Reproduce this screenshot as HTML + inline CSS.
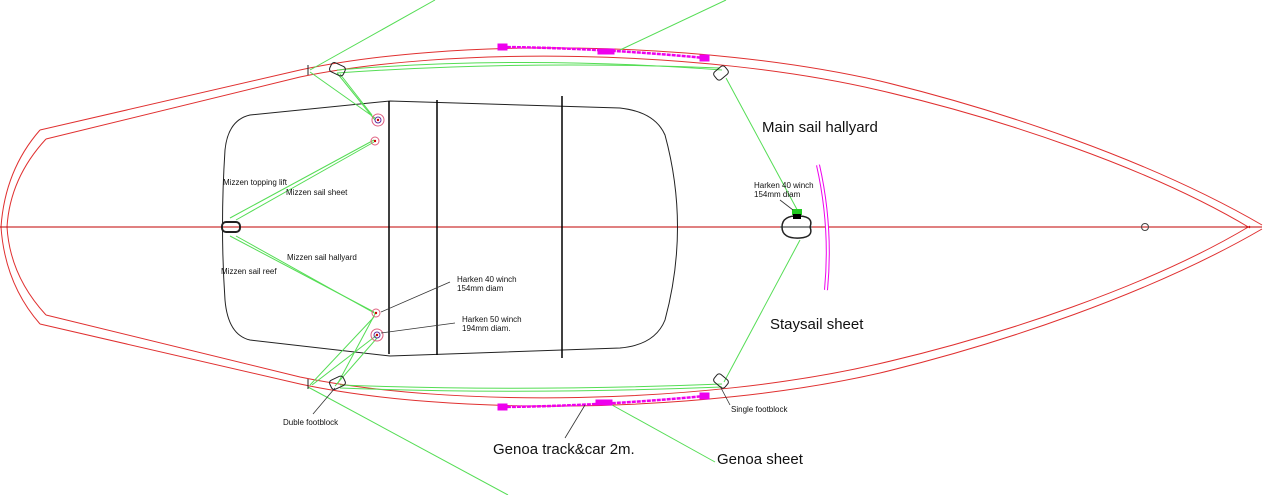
<!DOCTYPE html>
<html><head><meta charset="utf-8"><style>
html,body{margin:0;padding:0;background:#fff;width:1266px;height:495px;overflow:hidden}
svg{display:block}
text{font-family:"Liberation Sans",Arial,sans-serif;fill:#111}
</style></head><body>
<svg width="1266" height="495" viewBox="0 0 1266 495" xmlns="http://www.w3.org/2000/svg">
<defs>
<g id="hullhalf" fill="none" stroke="#e03030" stroke-width="1">
  <path d="M40,130 L300,70 C450,38 700,40 880,81 C1000,110 1150,160 1262,225"/>
  <path d="M46,139 L300,77 C450,46 700,49 878,90 C1000,118 1150,168 1250,228"/>
  <path d="M40,130 Q5,170 1,227"/>
  <path d="M46,139 Q10,178 7,227"/>
</g>
</defs>
<use href="#hullhalf"/>
<use href="#hullhalf" transform="translate(0,454) scale(1,-1)"/>
<line x1="0" y1="227" x2="1262" y2="227" stroke="#c00000" stroke-width="1"/>
<circle cx="1145" cy="227" r="3.5" fill="none" stroke="#444"/>
<!-- cockpit -->
<path d="M250,115 L390,101 L620,108 Q655,112 665,135 Q690,227 665,320 Q655,345 620,348 L390,356 L250,340 Q228,335 225,300 Q220,227 225,150 Q228,120 250,115 Z" fill="none" stroke="#222" stroke-width="1"/>
<line x1="389" y1="101" x2="389" y2="354" stroke="#000" stroke-width="1.5"/>
<line x1="437" y1="100" x2="437" y2="355" stroke="#000" stroke-width="1.5"/>
<line x1="562" y1="96" x2="562" y2="358" stroke="#000" stroke-width="1.5"/>
<!-- green lines -->
<g stroke="#55dd55" stroke-width="1" fill="none">
<line x1="310" y1="70" x2="435" y2="0"/>
<line x1="620" y1="50" x2="726" y2="0"/>
<path d="M337,70 Q520,55 722,70"/>
<path d="M337,73 Q520,60 720,68"/>
<line x1="726" y1="78" x2="800" y2="215"/>
<line x1="800" y1="240" x2="724" y2="382"/>
<path d="M340,388 Q520,395 722,387"/>
<path d="M340,385 Q520,392 722,384"/>
<line x1="308" y1="387" x2="508" y2="495"/>
<line x1="612" y1="405" x2="715" y2="462"/>
<line x1="310" y1="72" x2="375" y2="118"/>
<line x1="337" y1="73" x2="375" y2="120"/>
<line x1="340" y1="74" x2="372" y2="115"/>
<line x1="374" y1="140" x2="230" y2="218"/>
<line x1="374" y1="142" x2="236" y2="220"/>
<line x1="230" y1="236" x2="374" y2="312"/>
<line x1="236" y1="236" x2="376" y2="314"/>
<line x1="375" y1="314" x2="338" y2="383"/>
<line x1="374" y1="317" x2="310" y2="385"/>
<line x1="377" y1="335" x2="312" y2="385"/>
<line x1="377" y1="338" x2="335" y2="386"/>
</g>
<!-- magenta tracks -->
<g stroke="#ee00ee" fill="#ee00ee">
<path d="M502,47 Q600,48 705,58" stroke-width="2.5" stroke-dasharray="4 1" fill="none"/>
<rect x="498" y="44" width="9" height="6"/><rect x="598" y="49" width="16" height="5"/><rect x="700" y="55" width="9" height="6"/>
<path d="M502,407 Q600,406 705,396" stroke-width="2.5" stroke-dasharray="4 1" fill="none"/>
<rect x="498" y="404" width="9" height="6"/><rect x="596" y="400" width="16" height="5"/><rect x="700" y="393" width="9" height="6"/>
<path d="M818,165 Q832,227 826,290" stroke-width="4" fill="none"/>
</g>
<path d="M818,165 Q832,227 826,290" stroke="#fff" stroke-width="2" fill="none"/>
<!-- blocks -->
<g fill="none" stroke="#222" stroke-width="1">
<rect x="330" y="64" width="15" height="10" rx="3" transform="rotate(25 337 69)"/>
<rect x="714" y="68" width="14" height="10" rx="3" transform="rotate(-40 721 73)"/>
<rect x="330" y="378" width="15" height="10" rx="3" transform="rotate(-25 337 383)"/>
<rect x="714" y="376" width="14" height="10" rx="3" transform="rotate(40 721 381)"/>
<rect x="222" y="222" width="18" height="10" rx="4" stroke-width="2"/>
<path d="M782,227 Q782,215 800,216 Q814,217 810,227 Q814,237 800,238 Q782,239 782,227 Z" stroke-width="1.5"/>
<line x1="780" y1="227" x2="812" y2="227"/>
<line x1="308" y1="65" x2="308" y2="75"/><line x1="308" y1="379" x2="308" y2="389"/>
</g>
<rect x="792" y="209" width="10" height="6" fill="#22cc22"/>
<rect x="793" y="214" width="8" height="5" fill="#000"/>
<!-- winches -->
<g fill="none">
<circle cx="378" cy="120" r="6" stroke="#e06080"/><circle cx="378" cy="120" r="3" stroke="#6030a0"/><circle cx="378" cy="120" r="1.2" fill="#c00"/>
<circle cx="375" cy="141" r="4" stroke="#e06080"/><circle cx="375" cy="141" r="1.2" fill="#c00"/>
<circle cx="376" cy="313" r="4" stroke="#e06080"/><circle cx="376" cy="313" r="1.2" fill="#c00"/>
<circle cx="377" cy="335" r="6" stroke="#e06080"/><circle cx="377" cy="335" r="3" stroke="#6030a0"/><circle cx="377" cy="335" r="1.2" fill="#c00"/>
</g>
<!-- leader lines -->
<g stroke="#333" stroke-width="0.8">
<line x1="381" y1="312" x2="450" y2="282"/>
<line x1="381" y1="333" x2="455" y2="323"/>
<line x1="335" y1="388" x2="313" y2="414"/>
<line x1="720" y1="386" x2="730" y2="405"/>
<line x1="585" y1="405" x2="565" y2="438"/>
<line x1="780" y1="200" x2="793" y2="210"/>
</g>
<!-- labels -->
<g font-size="8">
<text x="223" y="185">Mizzen topping lift</text>
<text x="286" y="195">Mizzen sail sheet</text>
<text x="287" y="260">Mizzen sail hallyard</text>
<text x="221" y="274">Mizzen sail reef</text>
<text x="457" y="282">Harken 40 winch</text>
<text x="457" y="291">154mm diam</text>
<text x="462" y="322">Harken 50 winch</text>
<text x="462" y="331">194mm diam.</text>
<text x="754" y="188">Harken 40 winch</text>
<text x="754" y="197">154mm diam</text>
<text x="283" y="425">Duble footblock</text>
<text x="731" y="412">Single footblock</text>
</g>
<g font-size="15">
<text x="762" y="132">Main sail hallyard</text>
<text x="770" y="329">Staysail sheet</text>
<text x="493" y="454">Genoa track&amp;car 2m.</text>
<text x="717" y="464">Genoa sheet</text>
</g>
</svg>
</body></html>
